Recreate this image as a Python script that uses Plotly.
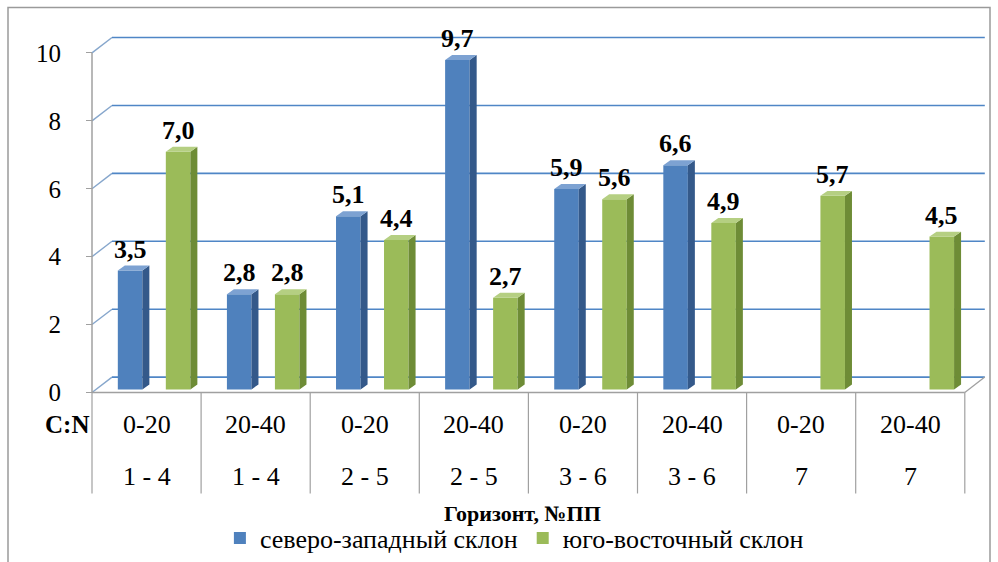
import plotly.graph_objects as go

# Data: C:N ratio by soil horizon and sample plot
horizons = ["0-20", "20-40", "0-20", "20-40", "0-20", "20-40", "0-20", "20-40"]
plots = ["1 - 4", "1 - 4", "2 - 5", "2 - 5", "3 - 6", "3 - 6", "7", "7"]
nw_slope = [3.5, 2.8, 5.1, 9.7, 5.9, 6.6, None, None]
se_slope = [7.0, 2.8, 4.4, 2.7, 5.6, 4.9, 5.7, 4.5]
series_names = ["северо-западный склон", "юго-восточный склон"]
y_ticks = [0, 2, 4, 6, 8, 10]

W, H = 998, 562
X0_PX = 92.0          # pixel of the category axis start
U = 109.1             # pixels per category
Y0_PX = 395.3         # pixel of value 0 on the front plane
S = 34.2              # pixels per value unit

# pseudo-3D depth offsets (in data units)
DX = 20.0 / U
DY = 15.5 / S
BAR_D = 0.2           # depth of the bar front face (0 = front, 1 = back)
SIDE_DX = 7.0 / U
SIDE_DY = 5.0 / S
BAR_W = 0.225
OFFSETS = [0.20, 0.64]

FACE = ["#4F81BD", "#9BBB59"]
SIDE = ["#34598A", "#6E8C36"]
TOP = ["#7DA2D2", "#B5CF82"]

GRID = "#4F86C6"
AXIS = "#A0A0A0"
SERIF = "Times New Roman, Liberation Serif, DejaVu Serif, serif"

n = len(horizons)
xr = [-X0_PX / U, (W - X0_PX) / U]
yr = [-(H - Y0_PX) / S, Y0_PX / S]

fig = go.Figure()

base = BAR_D * DY
shift = BAR_D * DX
annotations = []

for si, vals in enumerate([nw_slope, se_slope]):
    xs, ys = [], []
    for i, v in enumerate(vals):
        if v is not None:
            xs.append(i)
            ys.append(v)
    off = OFFSETS[si] + shift
    fig.add_trace(go.Bar(
        x=xs, y=ys, base=base, width=BAR_W, offset=off,
        marker=dict(color=FACE[si], line=dict(width=0)),
        name=series_names[si], showlegend=True,
    ))
    # side and top faces
    sx, sy, tx, ty = [], [], [], []
    for i, v in zip(xs, ys):
        l = i + off
        r = l + BAR_W
        b = base
        t = base + v
        sx += [r, r + SIDE_DX, r + SIDE_DX, r, r, None]
        sy += [b, b + SIDE_DY, t + SIDE_DY, t, b, None]
        tx += [l, r, r + SIDE_DX, l + SIDE_DX, l, None]
        ty += [t, t, t + SIDE_DY, t + SIDE_DY, t, None]
        annotations.append(dict(
            x=(l + r) / 2, y=t, xref="x", yref="y", text=f"{v:.1f}".replace(".", ","),
            showarrow=False, yanchor="bottom", yshift=5,
            font=dict(family=SERIF, size=26, color="black", weight="bold"),
        ))
    fig.add_trace(go.Scatter(x=sx, y=sy, fill="toself", fillcolor=SIDE[si], mode="lines",
                             line=dict(width=0, color=SIDE[si]), showlegend=False, hoverinfo="skip"))
    fig.add_trace(go.Scatter(x=tx, y=ty, fill="toself", fillcolor=TOP[si], mode="lines",
                             line=dict(width=0, color=TOP[si]), showlegend=False, hoverinfo="skip"))

shapes = []
# back-wall gridlines with their diagonal links to the axis
for v in y_ticks:
    shapes.append(dict(type="line", xref="x", yref="y", x0=0, y0=v, x1=DX, y1=v + DY,
                       line=dict(color="#86A6CC", width=1.4), layer="below"))
    shapes.append(dict(type="line", xref="x", yref="y", x0=DX, y0=v + DY, x1=n + DX, y1=v + DY,
                       line=dict(color=GRID, width=1.6), layer="below"))
# value axis line
shapes.append(dict(type="line", xref="x", yref="y", x0=0, y0=0, x1=0, y1=y_ticks[-1],
                   line=dict(color=AXIS, width=1.5), layer="below"))
# floor front edge and right edge
shapes.append(dict(type="line", xref="x", yref="y", x0=0, y0=0, x1=n, y1=0,
                   line=dict(color=AXIS, width=1.3), layer="below"))
shapes.append(dict(type="line", xref="x", yref="y", x0=n, y0=0, x1=n + DX, y1=DY,
                   line=dict(color=AXIS, width=1.3), layer="below"))
# category table dividers
table_bottom = -(497 - Y0_PX) / S
for k in range(n + 1):
    shapes.append(dict(type="line", xref="x", yref="y", x0=k, y0=0, x1=k, y1=table_bottom,
                       line=dict(color=AXIS, width=1.2), layer="below"))
# outer frame
shapes.append(dict(type="rect", xref="paper", yref="paper",
                   x0=8 / W, y0=1 - 575 / H, x1=990 / W, y1=1 - 7.5 / H,
                   line=dict(color="#9A9A9A", width=1.5), fillcolor="rgba(0,0,0,0)"))

row1_y = -(428 - Y0_PX) / S
row2_y = -(480 - Y0_PX) / S
cat_font = dict(family=SERIF, size=26, color="black")
for i in range(n):
    annotations.append(dict(x=i + 0.5, y=row1_y, xref="x", yref="y", text=horizons[i],
                            showarrow=False, font=cat_font))
    annotations.append(dict(x=i + 0.5, y=row2_y, xref="x", yref="y", text=plots[i],
                            showarrow=False, font=cat_font))
annotations.append(dict(x=-0.23, y=row1_y, xref="x", yref="y", text="C:N", showarrow=False,
                        font=dict(family=SERIF, size=25, color="black", weight="bold")))
annotations.append(dict(x=(X0_PX + 4 * U - 6) / W, y=1 - 517 / H, xref="paper", yref="paper",
                        yanchor="middle", text="Горизонт, №ПП", showarrow=False,
                        font=dict(family=SERIF, size=22, color="black", weight="bold")))

fig.update_layout(
    width=W, height=H,
    margin=dict(l=0, r=0, t=0, b=0),
    paper_bgcolor="white", plot_bgcolor="white",
    font=dict(family=SERIF),
    barmode="overlay",
    xaxis=dict(domain=[0, 1], range=xr, visible=False, fixedrange=True),
    yaxis=dict(domain=[0, 1], range=yr, anchor="free", position=X0_PX / W,
               tickmode="array", tickvals=y_ticks, ticktext=[str(v) for v in y_ticks],
               ticks="outside", ticklen=6, tickcolor=AXIS, tickwidth=1.3,
               ticklabelstandoff=20,
               showline=False, showgrid=False, zeroline=False,
               tickfont=dict(family=SERIF, size=25, color="black")),
    legend=dict(orientation="h", x=(X0_PX + 4 * U - 14) / W, xanchor="center",
                y=1 - 542 / H, yanchor="middle",
                font=dict(family=SERIF, size=26, color="black"),
                itemwidth=30, tracegroupgap=0, bgcolor="rgba(0,0,0,0)"),
    shapes=shapes,
    annotations=annotations,
    showlegend=True,
)

fig.write_html("out.html")
